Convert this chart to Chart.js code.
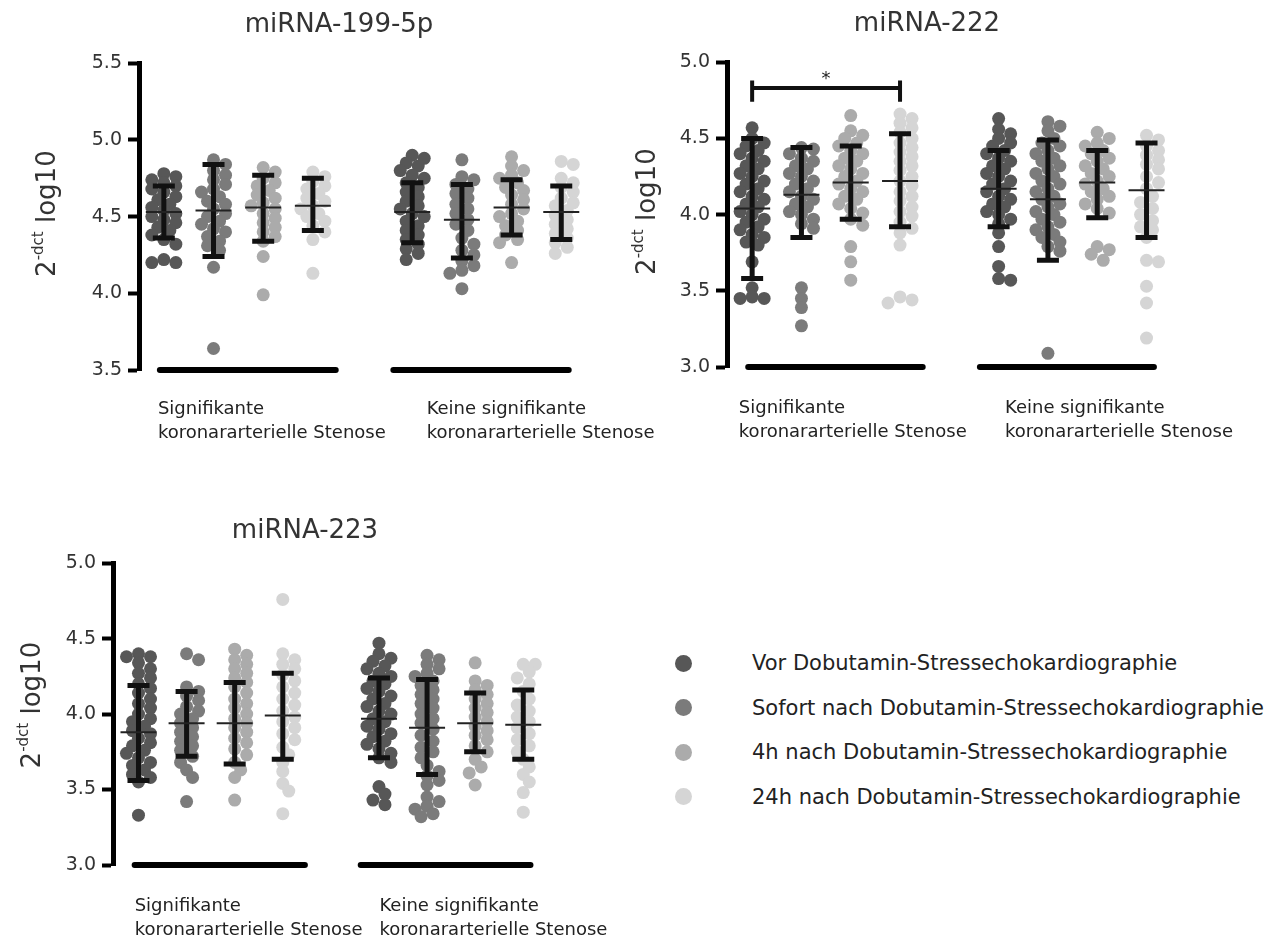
<!DOCTYPE html>
<html>
<head>
<meta charset="utf-8">
<script src="https://cdn.jsdelivr.net/npm/chart.js@4.4.1/dist/chart.umd.min.js"></script>
<style>
  html, body { margin: 0; padding: 0; background: #fff; overflow: hidden; }
  body { width: 1273px; height: 942px; position: relative; font-family: 'DejaVu Sans', sans-serif; }
  canvas { position: absolute; }
  .leg-dot { position: absolute; width: 17px; height: 17px; border-radius: 50%; }
  .leg-text { position: absolute; font-size: 21px; color: #222; white-space: nowrap; line-height: 24px; }
</style>
</head>
<body>
<canvas id="c1" width="700" height="470" style="left:0;top:0"></canvas>
<canvas id="c2" width="673" height="470" style="left:600px;top:0"></canvas>
<canvas id="c3" width="660" height="462" style="left:0;top:480px"></canvas>
<div id="legend"></div>
<script>
// Zeitpunkte und Gruppen
const timeLabels = [
    'Vor Dobutamin-Stressechokardiographie',
    'Sofort nach Dobutamin-Stressechokardiographie',
    '4h nach Dobutamin-Stressechokardiographie',
    '24h nach Dobutamin-Stressechokardiographie'
];
const timeColors = ['#575757', '#7b7b7b', '#ababab', '#d5d5d5'];
const groupLabels = [
    ['Signifikante', 'koronararterielle Stenose'],
    ['Keine signifikante', 'koronararterielle Stenose']
];

// miRNA-199-5p
const m199SigVor = [4.78, 4.76, 4.74, 4.72, 4.70, 4.68, 4.66, 4.63, 4.61, 4.58, 4.56, 4.54, 4.52, 4.50, 4.48, 4.46, 4.43, 4.41, 4.38, 4.35, 4.32, 4.22, 4.20, 4.20];
const m199SigSofort = [4.87, 4.84, 4.80, 4.77, 4.74, 4.71, 4.68, 4.66, 4.63, 4.60, 4.58, 4.55, 4.52, 4.50, 4.47, 4.45, 4.42, 4.40, 4.37, 4.34, 4.31, 4.28, 4.17, 3.64];
const m199Sig4h = [4.82, 4.79, 4.75, 4.72, 4.70, 4.67, 4.64, 4.62, 4.59, 4.57, 4.55, 4.52, 4.49, 4.46, 4.43, 4.40, 4.37, 4.34, 4.24, 3.99];
const m199Sig24h = [4.79, 4.76, 4.73, 4.70, 4.68, 4.65, 4.62, 4.60, 4.57, 4.55, 4.52, 4.50, 4.47, 4.44, 4.40, 4.35, 4.13];
const m199NonVor = [4.90, 4.88, 4.85, 4.83, 4.80, 4.77, 4.75, 4.72, 4.69, 4.66, 4.63, 4.60, 4.57, 4.55, 4.52, 4.50, 4.47, 4.44, 4.41, 4.38, 4.35, 4.32, 4.29, 4.26, 4.22];
const m199NonSofort = [4.87, 4.76, 4.74, 4.71, 4.68, 4.65, 4.62, 4.58, 4.55, 4.52, 4.48, 4.45, 4.41, 4.36, 4.32, 4.28, 4.25, 4.21, 4.18, 4.15, 4.13, 4.03];
const m199Non4h = [4.89, 4.83, 4.80, 4.77, 4.75, 4.72, 4.69, 4.67, 4.64, 4.61, 4.58, 4.55, 4.52, 4.50, 4.47, 4.44, 4.41, 4.38, 4.35, 4.33, 4.20];
const m199Non24h = [4.86, 4.84, 4.75, 4.72, 4.69, 4.66, 4.62, 4.59, 4.57, 4.54, 4.51, 4.48, 4.45, 4.42, 4.39, 4.36, 4.33, 4.30, 4.26];
const m199Mean = [4.53, 4.54, 4.56, 4.57, 4.53, 4.48, 4.56, 4.53];
const m199SdHigh = [4.70, 4.84, 4.77, 4.75, 4.72, 4.71, 4.74, 4.70];
const m199SdLow = [4.36, 4.24, 4.34, 4.41, 4.33, 4.23, 4.38, 4.35];

// miRNA-222
const m222SigVor = [4.57, 4.50, 4.47, 4.45, 4.42, 4.40, 4.37, 4.35, 4.32, 4.30, 4.27, 4.25, 4.22, 4.20, 4.17, 4.15, 4.12, 4.10, 4.07, 4.05, 4.02, 4.00, 3.97, 3.95, 3.92, 3.90, 3.87, 3.85, 3.82, 3.80, 3.69, 3.52, 3.46, 3.45, 3.45];
const m222SigSofort = [4.44, 4.43, 4.40, 4.37, 4.35, 4.32, 4.30, 4.27, 4.25, 4.22, 4.20, 4.17, 4.15, 4.12, 4.10, 4.07, 4.05, 4.02, 4.00, 3.97, 3.94, 3.91, 3.52, 3.45, 3.39, 3.27];
const m222Sig4h = [4.65, 4.55, 4.52, 4.50, 4.47, 4.45, 4.42, 4.40, 4.37, 4.35, 4.32, 4.30, 4.27, 4.25, 4.22, 4.20, 4.17, 4.15, 4.12, 4.10, 4.07, 4.04, 4.01, 3.97, 3.93, 3.79, 3.69, 3.57];
const m222Sig24h = [4.66, 4.63, 4.60, 4.57, 4.54, 4.50, 4.47, 4.44, 4.41, 4.38, 4.35, 4.32, 4.29, 4.25, 4.22, 4.19, 4.15, 4.12, 4.09, 4.05, 4.02, 3.99, 3.95, 3.91, 3.88, 3.80, 3.46, 3.44, 3.42];
const m222NonVor = [4.63, 4.56, 4.53, 4.50, 4.47, 4.45, 4.42, 4.40, 4.37, 4.35, 4.32, 4.30, 4.27, 4.25, 4.22, 4.20, 4.17, 4.15, 4.12, 4.10, 4.07, 4.05, 4.02, 4.00, 3.97, 3.94, 3.88, 3.79, 3.66, 3.58, 3.57];
const m222NonSofort = [4.61, 4.58, 4.55, 4.50, 4.47, 4.45, 4.42, 4.40, 4.37, 4.35, 4.32, 4.30, 4.27, 4.25, 4.22, 4.20, 4.17, 4.15, 4.12, 4.10, 4.07, 4.05, 4.02, 4.00, 3.97, 3.95, 3.92, 3.90, 3.87, 3.85, 3.82, 3.79, 3.76, 3.09];
const m222Non4h = [4.54, 4.50, 4.47, 4.45, 4.42, 4.40, 4.37, 4.35, 4.32, 4.30, 4.27, 4.25, 4.22, 4.20, 4.17, 4.15, 4.12, 4.10, 4.07, 4.04, 4.01, 3.79, 3.77, 3.74, 3.70];
const m222Non24h = [4.52, 4.49, 4.45, 4.42, 4.39, 4.36, 4.33, 4.30, 4.25, 4.21, 4.17, 4.12, 4.08, 4.04, 4.00, 3.96, 3.92, 3.90, 3.85, 3.70, 3.69, 3.53, 3.42, 3.19];
const m222Mean = [4.04, 4.13, 4.21, 4.22, 4.17, 4.10, 4.21, 4.16];
const m222SdHigh = [4.50, 4.44, 4.45, 4.53, 4.42, 4.49, 4.42, 4.47];
const m222SdLow = [3.58, 3.85, 3.97, 3.92, 3.92, 3.70, 3.98, 3.85];
const m222Bracket = { y: 4.83, capTop: 4.88, capBottom: 4.74, star: '*' };

// miRNA-223
const m223SigVor = [4.40, 4.38, 4.38, 4.34, 4.30, 4.27, 4.24, 4.20, 4.17, 4.14, 4.10, 4.07, 4.04, 4.00, 3.97, 3.95, 3.92, 3.89, 3.87, 3.84, 3.81, 3.79, 3.76, 3.74, 3.71, 3.68, 3.66, 3.63, 3.60, 3.58, 3.55, 3.33];
const m223SigSofort = [4.40, 4.36, 4.18, 4.15, 4.12, 4.09, 4.05, 4.02, 4.00, 3.97, 3.94, 3.91, 3.88, 3.85, 3.82, 3.79, 3.76, 3.72, 3.68, 3.63, 3.58, 3.42];
const m223Sig4h = [4.43, 4.39, 4.36, 4.33, 4.30, 4.27, 4.24, 4.21, 4.18, 4.14, 4.10, 4.07, 4.04, 4.00, 3.97, 3.94, 3.91, 3.88, 3.84, 3.81, 3.77, 3.73, 3.68, 3.63, 3.58, 3.43];
const m223Sig24h = [4.76, 4.40, 4.36, 4.33, 4.30, 4.26, 4.22, 4.18, 4.14, 4.10, 4.06, 4.02, 3.98, 3.95, 3.91, 3.87, 3.83, 3.78, 3.73, 3.68, 3.62, 3.54, 3.49, 3.34];
const m223NonVor = [4.47, 4.40, 4.37, 4.35, 4.32, 4.30, 4.27, 4.25, 4.22, 4.20, 4.17, 4.15, 4.12, 4.10, 4.07, 4.05, 4.02, 4.00, 3.97, 3.95, 3.92, 3.90, 3.87, 3.85, 3.82, 3.80, 3.77, 3.74, 3.71, 3.68, 3.52, 3.47, 3.43, 3.40];
const m223NonSofort = [4.39, 4.36, 4.33, 4.30, 4.27, 4.25, 4.22, 4.19, 4.16, 4.13, 4.10, 4.07, 4.04, 4.00, 3.97, 3.94, 3.90, 3.86, 3.82, 3.78, 3.75, 3.71, 3.66, 3.62, 3.59, 3.56, 3.53, 3.45, 3.42, 3.39, 3.37, 3.34, 3.32];
const m223Non4h = [4.34, 4.22, 4.19, 4.16, 4.13, 4.10, 4.07, 4.04, 4.01, 3.98, 3.95, 3.92, 3.89, 3.86, 3.83, 3.79, 3.75, 3.70, 3.65, 3.61, 3.53];
const m223Non24h = [4.33, 4.33, 4.28, 4.24, 4.20, 4.15, 4.10, 4.06, 4.02, 3.98, 3.95, 3.91, 3.87, 3.83, 3.79, 3.75, 3.70, 3.65, 3.60, 3.55, 3.48, 3.35];
const m223Mean = [3.88, 3.94, 3.94, 3.99, 3.97, 3.91, 3.94, 3.93];
const m223SdHigh = [4.19, 4.15, 4.21, 4.27, 4.24, 4.23, 4.14, 4.16];
const m223SdLow = [3.56, 3.72, 3.67, 3.70, 3.71, 3.60, 3.75, 3.70];

const FONT = 'DejaVu Sans';
const underlineSpans = [[0.92, 4.46], [5.62, 9.15]];
const STEP = 6;      // Abstand der Punkte nebeneinander (px)
const MAX_K = 4;     // maximal 2 Schritte nach links/rechts
const MIN_GAP = 9;   // minimale Distanz zwischen Punktmitten (px)

// x-Position einer Spalte: Zeitpunkt t, Gruppe g
function colX(t, g) {
    return 1 + t + 5 * g;
}

// Mittelwert +/- SD als Fehlerbalken, plus Signifikanzklammer
function makeErrorBars(mean, high, low, bracket) {
    return {
        id: 'errorBars',
        afterDatasetsDraw(chart) {
            const { ctx, scales: { x, y } } = chart;
            ctx.save();
            ctx.lineCap = 'butt';
            mean.forEach((m, j) => {
                const px = x.getPixelForValue(colX(j % 4, Math.floor(j / 4)));
                const yH = y.getPixelForValue(high[j]);
                const yL = y.getPixelForValue(low[j]);
                const yM = y.getPixelForValue(m);
                ctx.strokeStyle = '#111';
                ctx.lineWidth = 5;
                ctx.beginPath();
                ctx.moveTo(px, yH); ctx.lineTo(px, yL);
                ctx.moveTo(px - 11, yH); ctx.lineTo(px + 11, yH);
                ctx.moveTo(px - 11, yL); ctx.lineTo(px + 11, yL);
                ctx.stroke();
                ctx.lineWidth = 2;
                ctx.strokeStyle = '#222';
                ctx.beginPath();
                ctx.moveTo(px - 18, yM); ctx.lineTo(px + 18, yM);
                ctx.stroke();
            });
            if (bracket) {
                const x1 = x.getPixelForValue(colX(0, 0));
                const x2 = x.getPixelForValue(colX(3, 0));
                const yb = y.getPixelForValue(bracket.y);
                ctx.strokeStyle = '#111';
                ctx.lineWidth = 4;
                ctx.beginPath();
                ctx.moveTo(x1, yb); ctx.lineTo(x2, yb);
                ctx.moveTo(x1, y.getPixelForValue(bracket.capTop)); ctx.lineTo(x1, y.getPixelForValue(bracket.capBottom));
                ctx.moveTo(x2, y.getPixelForValue(bracket.capTop)); ctx.lineTo(x2, y.getPixelForValue(bracket.capBottom));
                ctx.stroke();
                ctx.fillStyle = '#222';
                ctx.font = '18px "' + FONT + '"';
                ctx.textAlign = 'center';
                ctx.textBaseline = 'alphabetic';
                ctx.fillText(bracket.star, (x1 + x2) / 2, yb - 4);
            }
            ctx.restore();
        }
    };
}

// y-Achsentitel mit hochgestelltem Exponenten
function makeYTitle(dx, dy) {
    return {
        id: 'yTitle',
        afterDraw(chart) {
            const { ctx, chartArea } = chart;
            const big = '26px "' + FONT + '"';
            const small = '15px "' + FONT + '"';
            ctx.save();
            ctx.translate(chartArea.left + dx, (chartArea.top + chartArea.bottom) / 2 + dy);
            ctx.rotate(-Math.PI / 2);
            ctx.fillStyle = '#333';
            ctx.textBaseline = 'alphabetic';
            ctx.textAlign = 'left';
            ctx.font = big;
            const w1 = ctx.measureText('2').width;
            const w3 = ctx.measureText(' log10').width;
            ctx.font = small;
            const w2 = ctx.measureText('-dct').width;
            let xx = -(w1 + w2 + w3) / 2;
            ctx.font = big;
            ctx.fillText('2', xx, 10);
            xx += w1;
            ctx.font = small;
            ctx.fillText('-dct', xx, -2);
            xx += w2;
            ctx.font = big;
            ctx.fillText(' log10', xx, 10);
            ctx.restore();
        }
    };
}

// Punkte je Spalte nebeneinander legen (Beeswarm)
function swarm(chart, series) {
    const xs = chart.scales.x, ys = chart.scales.y;
    const unit = xs.getPixelForValue(1) - xs.getPixelForValue(0);
    series.forEach((groups, t) => {
        const pts = [];
        groups.forEach((vals, g) => {
            const placed = [];
            vals.slice().sort((a, b) => b - a).forEach(v => {
                const py = ys.getPixelForValue(v);
                let best = 0, bestGap = -1;
                for (let k = 0; k <= MAX_K; k++) {
                    const off = (k % 2 ? 1 : -1) * Math.ceil(k / 2) * STEP;
                    let gap = Infinity;
                    placed.forEach(p => { gap = Math.min(gap, Math.hypot(p.ox - off, p.py - py)); });
                    if (gap >= MIN_GAP) { best = off; bestGap = gap; break; }
                    if (gap > bestGap) { best = off; bestGap = gap; }
                }
                placed.push({ ox: best, py: py });
                pts.push({ x: colX(t, g) + best / unit, y: v });
            });
        });
        chart.data.datasets[t].data = pts;
    });
    chart.update('none');
}

function buildChart(id, cfg) {
    const datasets = cfg.series.map((groups, t) => ({
        label: timeLabels[t],
        data: groups.flatMap((vals, g) => vals.map(v => ({ x: colX(t, g), y: v }))),
        backgroundColor: timeColors[t],
        borderWidth: 0,
        pointRadius: 6.5,
        pointHoverRadius: 6.5
    }));
    underlineSpans.forEach(span => {
        datasets.push({
            data: [{ x: span[0], y: cfg.yMin }, { x: span[1], y: cfg.yMin }],
            showLine: true,
            borderColor: '#000',
            borderWidth: 6,
            borderCapStyle: 'round',
            pointRadius: 0,
            clip: false
        });
    });

    const chart = new Chart(document.getElementById(id), {
        type: 'scatter',
        data: { datasets: datasets },
        options: {
            responsive: false,
            animation: false,
            devicePixelRatio: 1,
            events: [],
            layout: { padding: { left: 0, right: cfg.padRight, top: 0, bottom: 0 } },
            plugins: {
                legend: { display: false },
                tooltip: { enabled: false },
                title: {
                    display: true,
                    text: cfg.title,
                    color: '#333',
                    font: { family: FONT, size: 26, weight: 'normal' },
                    padding: { top: cfg.titleTop, bottom: cfg.titleBottom }
                }
            },
            scales: {
                x: {
                    type: 'linear',
                    min: cfg.xMin,
                    max: cfg.xMax,
                    grid: { display: false, drawTicks: false },
                    border: { display: false },
                    afterBuildTicks: scale => { scale.ticks = cfg.labelAt.map(v => ({ value: v })); },
                    afterFit: scale => { scale.height = cfg.xHeight; },
                    ticks: {
                        align: 'start',
                        autoSkip: false,
                        maxRotation: 0,
                        minRotation: 0,
                        padding: cfg.labelPad,
                        color: '#222',
                        font: { family: FONT, size: 18, lineHeight: 1.3 },
                        callback: (value, index) => groupLabels[index]
                    }
                },
                y: {
                    min: cfg.yMin,
                    max: cfg.yMax,
                    afterFit: scale => { scale.width = cfg.yWidth; },
                    grid: { display: true, drawOnChartArea: false, drawTicks: true, tickLength: 11, tickWidth: 4, tickColor: '#000' },
                    border: { display: true, width: 5, color: '#000' },
                    ticks: {
                        stepSize: 0.5,
                        padding: 6,
                        color: '#333',
                        font: { family: FONT, size: 19 },
                        callback: v => v.toFixed(1)
                    }
                }
            }
        },
        plugins: [makeErrorBars(cfg.mean, cfg.high, cfg.low, cfg.bracket), makeYTitle(cfg.yTitleDx, cfg.yTitleDy)]
    });
    swarm(chart, cfg.series);
    return chart;
}

buildChart('c1', {
    title: 'miRNA-199-5p',
    series: [[m199SigVor, m199NonVor], [m199SigSofort, m199NonSofort], [m199Sig4h, m199Non4h], [m199Sig24h, m199Non24h]],
    mean: m199Mean, high: m199SdHigh, low: m199SdLow,
    yMin: 3.5, yMax: 5.5,
    xMin: 0.5, xMax: 11.35,
    yWidth: 139, xHeight: 100, padRight: 22,
    titleTop: 10, titleBottom: 22,
    labelAt: [0.88, 6.29], labelPad: 28,
    yTitleDx: -94, yTitleDy: -3
});

buildChart('c2', {
    title: 'miRNA-222',
    series: [[m222SigVor, m222NonVor], [m222SigSofort, m222NonSofort], [m222Sig4h, m222Non4h], [m222Sig24h, m222Non24h]],
    mean: m222Mean, high: m222SdHigh, low: m222SdLow, bracket: m222Bracket,
    yMin: 3.0, yMax: 5.0,
    xMin: 0.49, xMax: 11.18,
    yWidth: 127, xHeight: 103, padRight: 19,
    titleTop: 9, titleBottom: 22,
    labelAt: [0.73, 6.13], labelPad: 30,
    yTitleDx: -82, yTitleDy: -3
});

buildChart('c3', {
    title: 'miRNA-223',
    series: [[m223SigVor, m223NonVor], [m223SigSofort, m223NonSofort], [m223Sig4h, m223Non4h], [m223Sig24h, m223Non24h]],
    mean: m223Mean, high: m223SdHigh, low: m223SdLow,
    yMin: 3.0, yMax: 5.0,
    xMin: 0.47, xMax: 10.59,
    yWidth: 113, xHeight: 77, padRight: 50,
    titleTop: 36, titleBottom: 16,
    labelAt: [0.92, 6.01], labelPad: 30,
    yTitleDx: -83, yTitleDy: -9
});

// Legende
const legend = document.getElementById('legend');
timeLabels.forEach((label, i) => {
    const cy = 663 + i * 44.5;
    const dot = document.createElement('div');
    dot.className = 'leg-dot';
    dot.style.background = timeColors[i];
    dot.style.left = (683 - 8.5) + 'px';
    dot.style.top = (cy - 8.5) + 'px';
    legend.appendChild(dot);
    const text = document.createElement('div');
    text.className = 'leg-text';
    text.textContent = label;
    text.style.left = '752px';
    text.style.top = (cy - 12) + 'px';
    legend.appendChild(text);
});
</script>
</body>
</html>
